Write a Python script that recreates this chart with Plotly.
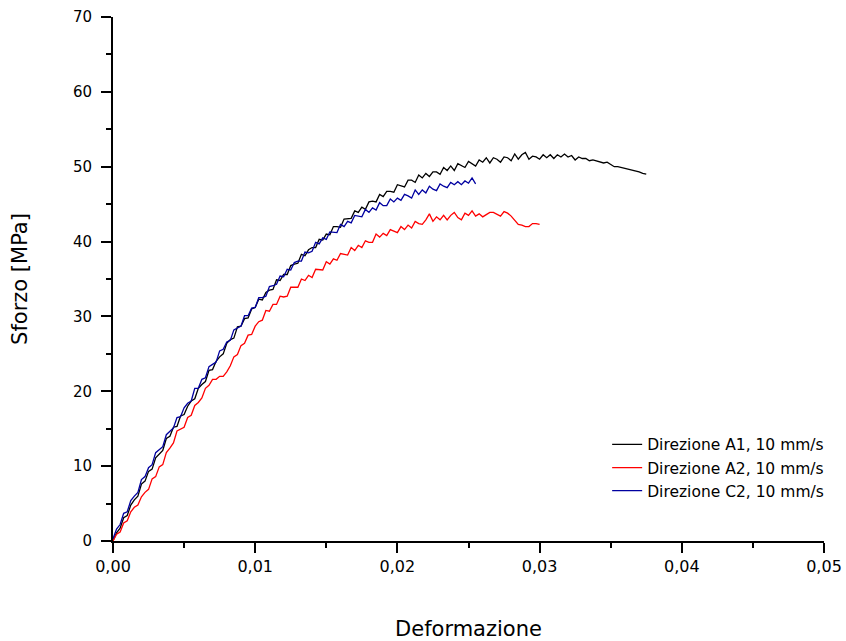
import plotly.graph_objects as go

STEP = 0.00025  # strain sampling step of the read-off values

# Sforzo [MPa] values, one per strain step
y_a1 = [0.0, 1.1, 1.7, 3.1, 3.4, 4.8, 5.5, 6.0, 7.6, 8.0,
        9.3, 9.6, 11.1, 11.6, 12.1, 13.7, 14.0, 15.2, 15.3, 16.7,
        16.9, 18.0, 18.7, 19.0, 20.4, 20.9, 21.3, 22.8, 22.9, 24.0,
        24.6, 25.0, 26.4, 26.9, 27.1, 28.6, 28.7, 29.7, 29.8, 31.0,
        31.2, 32.3, 32.2, 33.2, 33.5, 33.6, 34.9, 34.8, 35.6, 35.6,
        36.8, 37.0, 37.1, 38.3, 38.1, 38.9, 39.2, 39.2, 40.3, 40.2,
        41.0, 40.9, 42.0, 42.0, 41.9, 43.0, 43.0, 43.1, 44.1, 43.9,
        44.6, 44.3, 45.3, 45.4, 45.3, 46.3, 46.0, 46.7, 46.7, 46.6,
        47.6, 47.5, 47.3, 48.2, 48.2, 47.9, 48.9, 48.5, 49.1, 48.7,
        49.3, 49.3, 49.0, 49.9, 49.5, 50.1, 49.5, 50.4, 50.1, 49.9,
        50.7, 50.4, 50.1, 50.9, 50.6, 51.2, 50.5, 51.2, 51.0, 50.6,
        51.3, 51.2, 50.8, 51.7, 51.0, 51.6, 51.9, 51.0, 51.4, 51.3,
        51.0, 51.6, 51.2, 51.6, 51.1, 51.6, 51.3, 51.7, 51.3, 51.5,
        50.9, 51.3, 51.1, 51.1, 50.8, 50.9, 50.8, 50.7, 50.5, 50.6,
        50.3, 50.0, 50.0, 49.9, 49.8, 49.7, 49.5, 49.5, 49.3, 49.1,
        49.0]

y_a2 = [0.0, 0.9, 1.2, 2.4, 2.7, 3.9, 4.5, 4.8, 5.9, 6.5,
        6.9, 8.3, 8.6, 9.9, 10.2, 11.8, 12.4, 13.1, 14.7, 15.0,
        15.2, 16.5, 16.8, 18.1, 18.5, 19.1, 20.4, 20.8, 21.6, 21.6,
        22.0, 22.0, 22.6, 23.4, 24.6, 24.9, 26.1, 26.4, 27.5, 27.6,
        28.7, 29.3, 29.5, 30.8, 30.7, 31.6, 31.6, 32.7, 32.6, 32.7,
        33.9, 33.9, 33.9, 35.0, 34.8, 35.5, 35.2, 36.3, 36.2, 36.2,
        37.3, 37.0, 37.7, 37.5, 38.4, 38.3, 38.2, 39.2, 38.8, 39.5,
        39.2, 40.1, 39.9, 39.9, 41.0, 40.6, 41.1, 40.8, 41.6, 41.4,
        41.2, 42.0, 41.6, 42.2, 41.8, 42.7, 42.4, 42.3, 42.9, 43.7,
        42.7, 43.3, 42.9, 43.5, 42.9, 43.5, 43.9, 43.2, 42.9, 43.8,
        43.5, 44.1, 43.4, 43.7, 43.3, 43.6, 43.9, 43.9, 43.6, 43.4,
        44.0, 43.8, 43.4, 42.9, 42.3, 42.2, 42.0, 42.0, 42.4, 42.4,
        42.3]

y_c2 = [0.3, 1.6, 2.2, 3.7, 3.9, 5.4, 6.0, 6.5, 8.2, 8.6,
        9.8, 10.2, 11.8, 12.2, 12.6, 14.2, 14.6, 15.1, 16.5, 16.6,
        17.8, 18.4, 18.7, 20.4, 20.4, 21.6, 21.8, 23.3, 23.6, 23.9,
        25.4, 25.6, 26.6, 26.8, 28.2, 28.5, 28.7, 30.1, 30.1, 31.1,
        31.2, 32.5, 32.5, 32.7, 34.0, 34.1, 34.3, 35.4, 35.3, 36.3,
        36.2, 37.2, 37.4, 37.4, 38.6, 38.5, 38.7, 39.9, 39.7, 40.5,
        40.3, 41.3, 41.3, 41.2, 42.3, 42.0, 42.7, 42.5, 43.5, 43.4,
        43.3, 44.3, 43.9, 44.5, 44.2, 45.2, 44.8, 44.8, 45.7, 45.3,
        45.8, 45.5, 46.3, 46.1, 45.8, 46.9, 46.3, 46.9, 46.5, 47.4,
        47.0, 46.8, 47.7, 47.4, 47.2, 47.9, 47.6, 48.0, 47.6, 48.1,
        47.8, 48.5, 47.7]

x_a1 = [i * STEP for i in range(len(y_a1))]
x_a2 = [i * STEP for i in range(len(y_a2))]
x_c2 = [i * STEP for i in range(len(y_c2))]

names = ["Direzione A1, 10 mm/s", "Direzione A2, 10 mm/s", "Direzione C2, 10 mm/s"]
colors = ["#000000", "#FF0000", "#0000A0"]

FONT = "DejaVu Sans, Liberation Sans, Arial, sans-serif"

fig = go.Figure()
for xs, ys, nm, col in [(x_a1, y_a1, names[0], colors[0]),
                        (x_a2, y_a2, names[1], colors[1]),
                        (x_c2, y_c2, names[2], colors[2])]:
    fig.add_trace(go.Scatter(x=xs, y=ys, mode="lines", name=nm,
                             line=dict(color=col, width=1.3)))

axis_common = dict(
    showline=True, linecolor="black", linewidth=2,
    ticks="outside", ticklen=10, tickwidth=2, tickcolor="black",
    showgrid=False, zeroline=False, mirror=False, automargin=False,
)

fig.update_layout(
    width=846, height=641,
    margin=dict(l=113, r=22, t=17, b=100),
    paper_bgcolor="white", plot_bgcolor="white",
    separators=",.",
    font=dict(family=FONT, color="black"),
    xaxis=dict(range=[0, 0.05], dtick=0.01, tick0=0, tickformat=".2f",
               tickfont=dict(family=FONT, size=16, color="black"),
               title=dict(text="Deformazione", font=dict(family=FONT, size=21), standoff=52),
               minor=dict(dtick=0.005, ticklen=5, tickwidth=2, ticks="outside", tickcolor="black"),
               **axis_common),
    yaxis=dict(range=[0, 70], dtick=10, tick0=0,
               tickfont=dict(family=FONT, size=15, color="black"),
               ticklabelstandoff=6,
               title=dict(text="Sforzo [MPa]", font=dict(family=FONT, size=21), standoff=40),
               minor=dict(dtick=5, ticklen=5, tickwidth=2, ticks="outside", tickcolor="black"),
               **axis_common),
    showlegend=True,
    legend=dict(x=0.695, y=0.216, xanchor="left", yanchor="top",
                bgcolor="rgba(0,0,0,0)", font=dict(family=FONT, size=15.5),
                tracegroupgap=0, itemwidth=30),
)

fig.write_html("out.html", config={"displayModeBar": False},
               post_script="document.body.style.margin='0';")
